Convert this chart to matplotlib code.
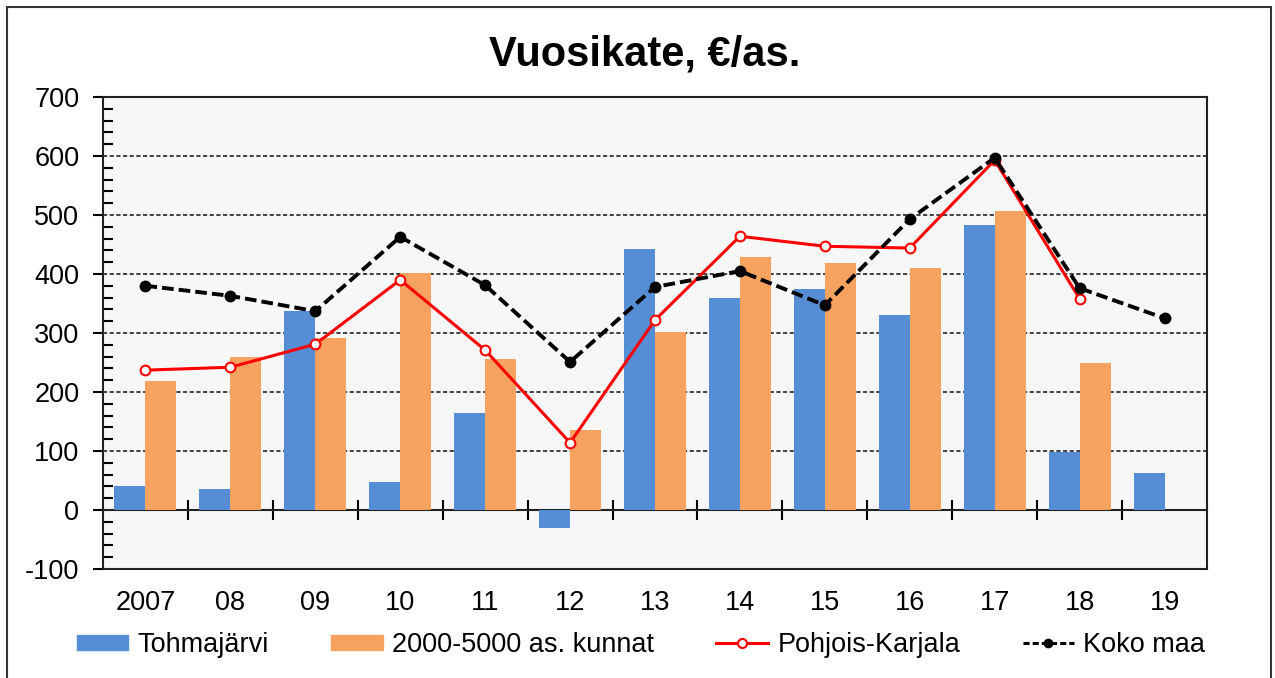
import numpy as np
import matplotlib.pyplot as plt
from matplotlib.patches import Rectangle
from matplotlib.lines import Line2D
from matplotlib.ticker import MultipleLocator

plt.rcParams['font.family'] = ['Liberation Sans', 'DejaVu Sans']
plt.rcParams['axes.unicode_minus'] = False

years = ['2007', '08', '09', '10', '11', '12', '13', '14', '15', '16', '17', '18', '19']
tohmajarvi = [40, 35, 337, 47, 164, -31, 442, 359, 375, 330, 483, 98, 63]
kunnat = [219, 259, 291, 402, 256, 135, 302, 429, 419, 410, 507, 249, np.nan]
pohjois_karjala = [237, 242, 281, 390, 271, 114, 322, 464, 447, 444, 593, 358, np.nan]
koko_maa = [380, 363, 337, 463, 381, 251, 378, 405, 347, 493, 597, 376, 325]

blue = '#558ED5'
orange = '#F7A35F'

fig = plt.figure(figsize=(12.75, 6.78), dpi=100)
ax = fig.add_axes([103 / 1275, 1 - 569 / 678, 1104 / 1275, 472 / 678])
ax.set_facecolor('#F7F7F7')

x = np.arange(len(years))
w = 0.365
ax.bar(x - w / 2, tohmajarvi, w, color=blue, zorder=2)
ax.bar(x + w / 2, kunnat, w, color=orange, zorder=2)
ax.plot(x, pohjois_karjala, color='red', lw=2.2, marker='o', ms=7,
        mfc='white', mec='red', mew=1.5, zorder=3)
ax.plot(x, koko_maa, color='black', lw=2.8, ls=(0, (3, 1.3)), marker='o',
        ms=7.5, zorder=4)

ax.set_xlim(-0.5, len(years) - 0.5)
ax.set_ylim(-100, 700)
ax.set_yticks(range(-100, 701, 100))
ax.yaxis.set_minor_locator(MultipleLocator(20))
ax.tick_params(axis='y', which='major', direction='out', length=7, width=1.5,
               labelsize=19.5, pad=10)
ax.tick_params(axis='y', which='minor', direction='in', length=7, width=1.5)
ax.set_xticks(x)
ax.set_xticklabels(years)
ax.tick_params(axis='x', length=0, labelsize=19.5, pad=15)
ax.yaxis.grid(True, ls=(0, (2.5, 1.5)), color='#222222', lw=1.2, zorder=1)
for s in ax.spines.values():
    s.set_linewidth(1.5)
    s.set_color('#222222')

# zero line with category separators
zero = ax.secondary_xaxis(100 / 800)
zero.set_xticks(np.arange(0.5, len(years) - 1, 1))
zero.tick_params(direction='inout', length=14, width=1.5, labelbottom=False)
zero.spines['bottom'].set_linewidth(1.5)
zero.spines['bottom'].set_color('#222222')

fig.text(645 / 1275, 1 - 66 / 678, 'Vuosikate, €/as.', ha='center',
         va='baseline', fontsize=30, fontweight='bold')

handles = [
    Rectangle((0, 0), 1, 1, color=blue),
    Rectangle((0, 0), 1, 1, color=orange),
    Line2D([], [], color='red', lw=2.2, marker='o', ms=6.5, mfc='white',
           mec='red', mew=1.5),
    Line2D([], [], color='black', lw=2.2, ls=(0, (2, 1)), marker='o', ms=6),
]
labels = ['Tohmajärvi', '2000-5000 as. kunnat', 'Pohjois-Karjala', 'Koko maa']
fig.legend(handles, labels, loc='center', bbox_to_anchor=(641 / 1275, 1 - 645 / 678),
           ncol=4, frameon=False, fontsize=19.5, handlelength=1.9,
           handleheight=0.5, handletextpad=0.35, columnspacing=2.3)

fig.add_artist(Rectangle((7 / 1275, -0.02), 1264 / 1275, 1 - 7 / 678 + 0.02,
                         transform=fig.transFigure, fill=False, lw=1.5,
                         ec='#333333'))

fig.savefig('out.png', dpi=100)
